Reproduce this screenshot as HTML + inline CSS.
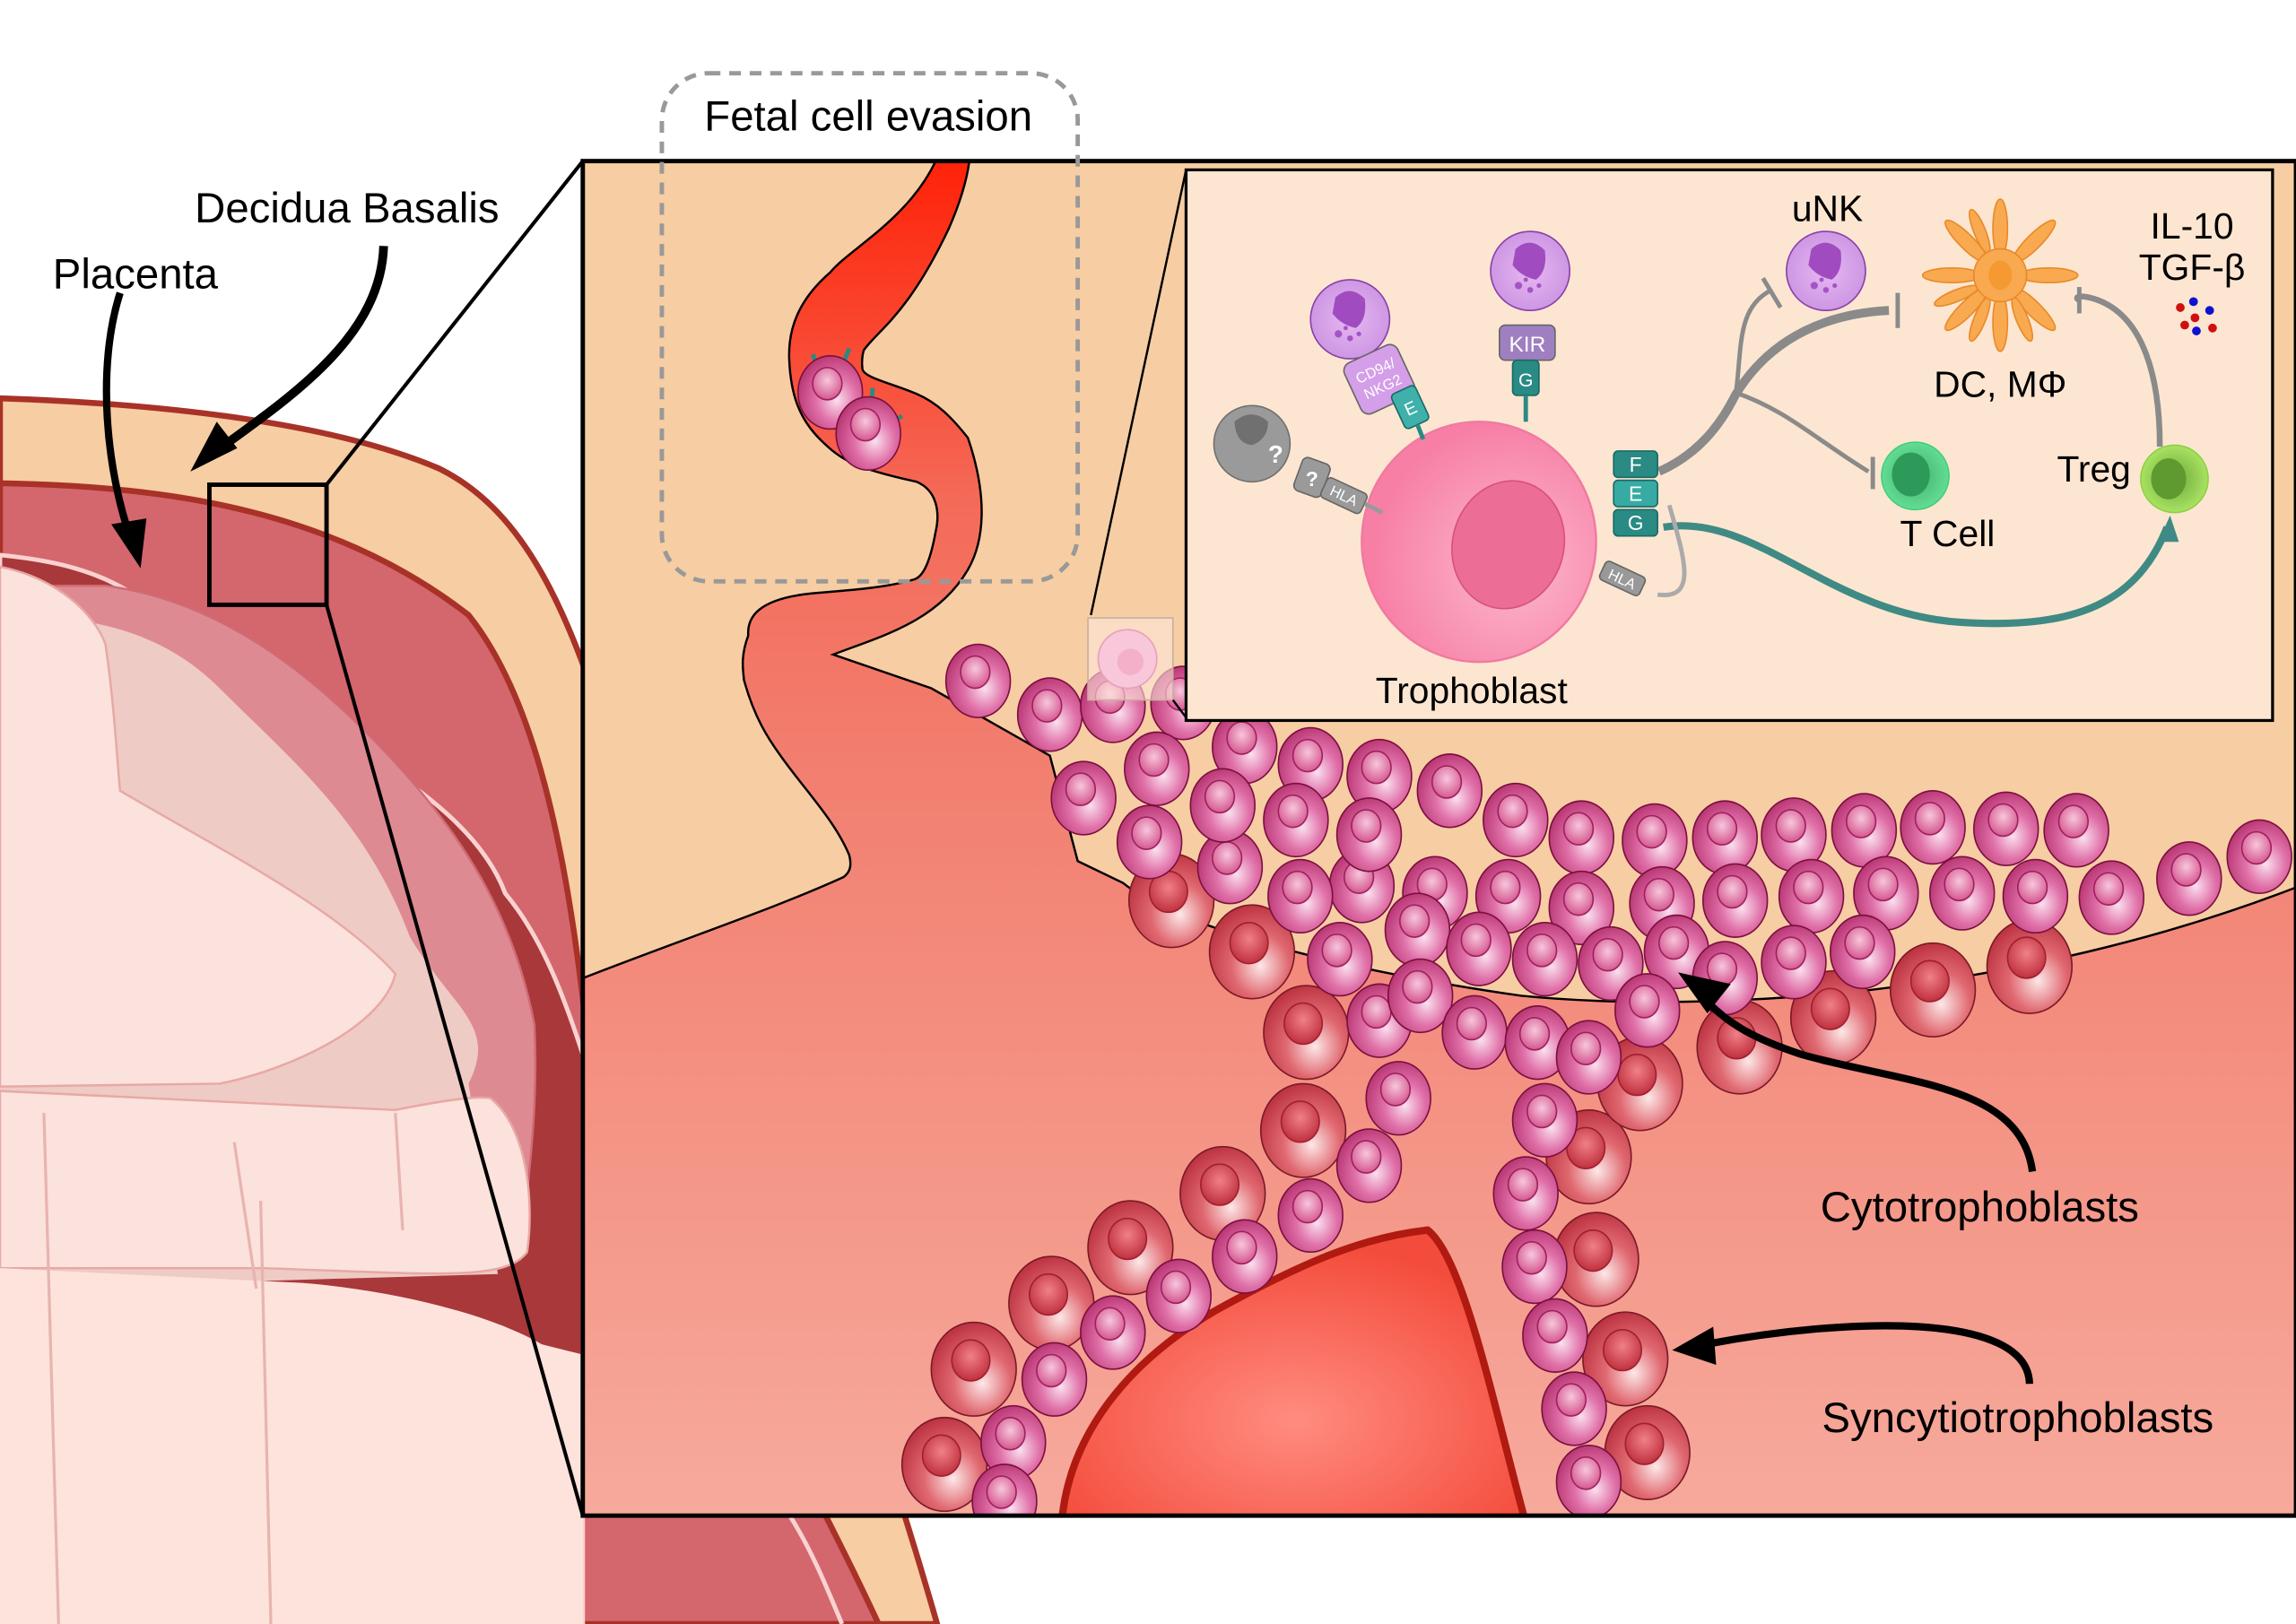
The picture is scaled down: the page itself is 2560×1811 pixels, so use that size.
<!DOCTYPE html>
<html><head><meta charset="utf-8"><style>html,body{margin:0;padding:0;background:#fff}svg{display:block}text{font-family:"Liberation Sans",sans-serif}</style></head>
<body>
<svg width="2560" height="1811" viewBox="0 0 1568 1109" preserveAspectRatio="none" xmlns="http://www.w3.org/2000/svg">
<defs>
<clipPath id="boxclip"><rect x="398" y="110" width="1170" height="925"/></clipPath>
<radialGradient id="gp" cx="0.6" cy="0.6" r="0.7"><stop offset="0" stop-color="#fbe0ee"/><stop offset="0.45" stop-color="#e070a8"/><stop offset="1" stop-color="#b02a68"/></radialGradient>
<radialGradient id="gpn" cx="0.5" cy="0.4" r="0.6"><stop offset="0" stop-color="#f7c6dc"/><stop offset="1" stop-color="#d5578f"/></radialGradient>
<radialGradient id="gr" cx="0.6" cy="0.65" r="0.75"><stop offset="0" stop-color="#fde8e8"/><stop offset="0.45" stop-color="#e06870"/><stop offset="1" stop-color="#b32535"/></radialGradient>
<radialGradient id="grn" cx="0.5" cy="0.4" r="0.6"><stop offset="0" stop-color="#f08088"/><stop offset="1" stop-color="#c0303e"/></radialGradient>
<linearGradient id="lower" gradientUnits="userSpaceOnUse" x1="0" y1="110" x2="0" y2="1035"><stop offset="0" stop-color="#ff2208"/><stop offset="0.25" stop-color="#f46a58"/><stop offset="0.45" stop-color="#f27f70"/><stop offset="1" stop-color="#f6aa9c"/></linearGradient>
<radialGradient id="blob" cx="0.5" cy="0.65" r="0.6"><stop offset="0" stop-color="#ff8c80"/><stop offset="1" stop-color="#f44c3c"/></radialGradient>
<radialGradient id="tro" cx="0.65" cy="0.6" r="0.6"><stop offset="0" stop-color="#fcb8cc"/><stop offset="1" stop-color="#f77fa6"/></radialGradient>
<radialGradient id="pur" cx="0.5" cy="0.5" r="0.6"><stop offset="0" stop-color="#e7b8f2"/><stop offset="1" stop-color="#c890e0"/></radialGradient>
<radialGradient id="grn2" cx="0.5" cy="0.5" r="0.6"><stop offset="0" stop-color="#3fb070"/><stop offset="1" stop-color="#6be59a"/></radialGradient>
<radialGradient id="lime" cx="0.5" cy="0.5" r="0.6"><stop offset="0" stop-color="#6aa83a"/><stop offset="1" stop-color="#b6ee6a"/></radialGradient>
<g id="pc"><ellipse rx="22" ry="25" fill="url(#gp)" stroke="#7a1040" stroke-width="1"/><ellipse cx="-2" cy="-6" rx="10" ry="11" fill="url(#gpn)" stroke="#a02060" stroke-width="1"/></g>
<g id="rc"><ellipse rx="29" ry="32" fill="url(#gr)" stroke="#7a1a26" stroke-width="1"/><ellipse cx="-2" cy="-6" rx="13" ry="14" fill="url(#grn)" stroke="#a02030" stroke-width="1"/></g>
<g id="pcell"><circle r="27" fill="url(#pur)" stroke="#8a40a8" stroke-width="1"/><path d="M-10,-15 Q0,-24 10,-14 Q12,0 4,6 Q-6,4 -12,-4 Z" fill="#a04cc0"/><circle cx="-8" cy="10" r="2.5" fill="#a454c4"/><circle cx="0" cy="13" r="2" fill="#a454c4"/><circle cx="-3" cy="6" r="1.5" fill="#a454c4"/><circle cx="6" cy="10" r="1.6" fill="#a454c4"/></g>
</defs>

<!-- LEFT UTERUS -->
<path d="M0,272 C120,276 230,290 300,320 C360,350 390,420 420,520 C500,700 580,900 640,1109 L0,1109 Z" fill="#f7cda3" stroke="#a83228" stroke-width="4"/>
<path d="M0,330 C120,332 230,350 320,420 C360,470 385,560 400,700 C460,850 540,980 600,1109 L0,1109 Z" fill="#d4666e" stroke="#a83228" stroke-width="4"/>
<path d="M0,379 C60,385 110,400 144,469 C180,480 210,495 238,507 C290,540 330,570 345,610 C370,640 385,680 398,720 L398,1109 L0,1109 Z" fill="#a8383a" stroke="#fad2d0" stroke-width="3"/>
<path d="M72,400 C150,410 210,460 250,500 C310,560 350,620 365,700 C368,760 360,810 355,860 L0,870 L0,400 Z" fill="#de8a92" stroke="#d06a74" stroke-width="1.5"/>
<path d="M0,420 C60,420 110,430 150,470 C200,520 250,560 280,640 C310,690 340,700 320,740 L340,870 L0,880 Z" fill="#eecbc4"/>
<path d="M0,387 C40,395 65,420 72,440 C 78,480 80,520 82,540 C150,580 230,620 270,665 C262,700 200,730 150,740 L0,742 Z" fill="#fbe2dc" stroke="#e8a8a4" stroke-width="1.5"/>
<path d="M0,745 L270,758 C300,752 325,748 335,750 C360,770 365,820 360,855 C345,875 300,870 180,866 L0,866 Z" fill="#fbe2dc" stroke="#e8a8a4" stroke-width="1.5"/>
<path d="M0,866 L205,876 C260,880 330,895 370,918 L398,925 L398,1109 L0,1109 Z" fill="#fde3dc"/>
<path d="M30,760 L40,1109 M160,780 L175,880 M270,760 L275,840 M178,820 L185,1109" stroke="#e8b4b0" stroke-width="2" fill="none"/>
<path d="M540,1036 C555,1060 565,1085 575,1109" stroke="#fad2d0" stroke-width="3" fill="none"/>

<!-- Labels left -->
<text x="133" y="152" font-size="29">Decidua Basalis</text>
<text x="36" y="197" font-size="29">Placenta</text>
<path d="M262,168 C260,230 200,270 145,310" stroke="#000" stroke-width="6" fill="none"/>
<path d="M130,322 L148,288 L162,306 Z" fill="#000"/>
<path d="M82,200 C66,250 72,320 90,370" stroke="#000" stroke-width="5" fill="none"/>
<path d="M96,388 L76,358 L100,354 Z" fill="#000"/>
<rect x="143" y="331" width="80" height="82" fill="none" stroke="#000" stroke-width="3"/>
<line x1="223" y1="331" x2="398" y2="110" stroke="#000" stroke-width="2.5"/>
<line x1="223" y1="413" x2="398" y2="1035" stroke="#000" stroke-width="2.5"/>

<!-- MAIN BOX -->
<rect x="398" y="110" width="1170" height="925" fill="#f7cda3"/>
<g clip-path="url(#boxclip)">
<path d="M639,110 C620,150 580,170 567,186 C545,205 538,225 539,246 C540,268 545,285 560,300 C575,315 585,320 626,329 C640,335 642,350 639,363 C635,385 630,395 623,396 C600,403 560,404 548,406 C520,410 510,420 511,434 C505,450 508,460 508,464 C515,490 525,505 533,516 C550,540 570,560 580,584 C582,592 580,596 576,599 C530,620 470,640 398,668 L398,1035 L1568,1035 L1568,606 C1480,640 1380,665 1260,678 C1150,688 1080,684 1039,680 C900,660 800,630 767,603 L736,588 L717,516 L636,470 L569,447 C600,435 640,425 661,389 C672,370 675,340 661,299 C650,285 640,275 626,269 C610,262 590,258 589,252 C588,244 590,239 590,239 C600,225 620,215 648,156 C655,140 660,125 662,110 Z" fill="url(#lower)" stroke="#000" stroke-width="1.5"/>
<!-- vessel cells -->
<g stroke="#2a8a80" stroke-width="3"><line x1="559" y1="252" x2="555" y2="242"/><line x1="575" y1="250" x2="580" y2="238"/><line x1="595" y1="277" x2="596" y2="265"/><line x1="607" y1="290" x2="616" y2="284"/></g>
<use href="#pc" x="567" y="268" transform="rotate(0)"/>
<use href="#pc" x="593" y="296"/>
<!-- big blob -->
<path d="M725,1040 C730,980 770,930 830,895 C890,862 930,845 975,840 C1000,860 1020,960 1042,1040 Z" fill="url(#blob)" stroke="#b01a10" stroke-width="5"/>
<!-- red cells -->
<use href="#rc" x="800" y="615"/><use href="#rc" x="855" y="650"/><use href="#rc" x="892" y="705"/><use href="#rc" x="890" y="772"/><use href="#rc" x="835" y="815"/><use href="#rc" x="772" y="852"/><use href="#rc" x="718" y="890"/><use href="#rc" x="665" y="935"/><use href="#rc" x="645" y="1000"/>
<use href="#rc" x="1085" y="790"/><use href="#rc" x="1090" y="860"/><use href="#rc" x="1110" y="928"/><use href="#rc" x="1125" y="992"/><use href="#rc" x="1120" y="740"/><use href="#rc" x="1188" y="715"/><use href="#rc" x="1252" y="695"/><use href="#rc" x="1320" y="676"/><use href="#rc" x="1386" y="660"/>
<!-- pink cells -->
<use href="#pc" x="668" y="465"/><use href="#pc" x="717" y="488"/><use href="#pc" x="760" y="482"/><use href="#pc" x="808" y="480"/><use href="#pc" x="850" y="510"/><use href="#pc" x="895" y="522"/><use href="#pc" x="942" y="530"/><use href="#pc" x="990" y="540"/><use href="#pc" x="1035" y="560"/><use href="#pc" x="1080" y="572"/><use href="#pc" x="1130" y="574"/><use href="#pc" x="1178" y="572"/><use href="#pc" x="1225" y="570"/><use href="#pc" x="1273" y="567"/><use href="#pc" x="1320" y="565"/><use href="#pc" x="1370" y="566"/><use href="#pc" x="1418" y="567"/><use href="#pc" x="1495" y="600"/><use href="#pc" x="1543" y="585"/><use href="#pc" x="1442" y="613"/><use href="#pc" x="1390" y="612"/><use href="#pc" x="1340" y="610"/><use href="#pc" x="1288" y="610"/><use href="#pc" x="1237" y="612"/><use href="#pc" x="1185" y="615"/><use href="#pc" x="1135" y="617"/><use href="#pc" x="1080" y="620"/><use href="#pc" x="1030" y="612"/><use href="#pc" x="980" y="610"/><use href="#pc" x="930" y="605"/><use href="#pc" x="888" y="612"/><use href="#pc" x="840" y="592"/><use href="#pc" x="785" y="575"/><use href="#pc" x="740" y="545"/><use href="#pc" x="790" y="525"/><use href="#pc" x="835" y="550"/><use href="#pc" x="885" y="560"/><use href="#pc" x="935" y="570"/>
<use href="#pc" x="915" y="655"/><use href="#pc" x="968" y="635"/><use href="#pc" x="1010" y="648"/><use href="#pc" x="1055" y="655"/><use href="#pc" x="1100" y="658"/><use href="#pc" x="1145" y="650"/><use href="#pc" x="1178" y="668"/><use href="#pc" x="1225" y="657"/><use href="#pc" x="1272" y="650"/><use href="#pc" x="942" y="697"/><use href="#pc" x="970" y="680"/><use href="#pc" x="1007" y="705"/><use href="#pc" x="1050" y="712"/><use href="#pc" x="1085" y="722"/><use href="#pc" x="1125" y="690"/>
<use href="#pc" x="955" y="750"/><use href="#pc" x="935" y="796"/><use href="#pc" x="895" y="830"/><use href="#pc" x="850" y="858"/><use href="#pc" x="805" y="885"/><use href="#pc" x="760" y="910"/><use href="#pc" x="720" y="942"/><use href="#pc" x="692" y="985"/><use href="#pc" x="686" y="1025"/>
<use href="#pc" x="1055" y="765"/><use href="#pc" x="1042" y="815"/><use href="#pc" x="1048" y="865"/><use href="#pc" x="1062" y="912"/><use href="#pc" x="1075" y="962"/><use href="#pc" x="1085" y="1012"/>
</g>
<!-- thumbnail -->
<rect x="743" y="422" width="58" height="56" fill="#fde6da" fill-opacity="0.6" stroke="#c8b0a0" stroke-width="1"/>
<circle cx="770" cy="450" r="20" fill="#f8c8da" stroke="#e8a0bc"/><circle cx="772" cy="452" r="9" fill="#f4b0c8"/>
<line x1="745" y1="420" x2="810" y2="116" stroke="#000" stroke-width="1.5"/>
<line x1="801" y1="478" x2="810" y2="490" stroke="#000" stroke-width="1.5"/>
<rect x="398" y="110" width="1170" height="925" fill="none" stroke="#000" stroke-width="3"/>

<!-- dashed box -->
<rect x="452" y="50" width="284" height="347" rx="32" fill="none" stroke="#999" stroke-width="3" stroke-dasharray="8,6"/>
<text x="593" y="89" font-size="29" text-anchor="middle">Fetal cell evasion</text>

<!-- arrows right -->
<path d="M1388,800 C1380,740 1300,740 1230,720 C1200,710 1180,700 1162,680" stroke="#000" stroke-width="5" fill="none"/>
<path d="M1146,664 L1182,672 L1166,692 Z" fill="#000"/>
<path d="M1386,945 C1385,895 1260,900 1165,918" stroke="#000" stroke-width="5" fill="none"/>
<path d="M1142,922 L1170,906 L1172,932 Z" fill="#000"/>
<text x="1352" y="834" font-size="29" text-anchor="middle">Cytotrophoblasts</text>
<text x="1378" y="978" font-size="29" text-anchor="middle">Syncytiotrophoblasts</text>

<!-- INSET -->
<rect x="810" y="116" width="742" height="376" fill="#fde6d1" stroke="#000" stroke-width="2"/>
<g fill="none" stroke="#8a8a8a" stroke-linecap="butt">
<path d="M1133,322 C1160,310 1175,290 1185,270 C1200,245 1230,215 1290,212" stroke-width="6"/>
<path d="M1185,272 C1190,240 1185,210 1210,198" stroke-width="3"/>
<path d="M1185,268 C1220,280 1240,300 1276,322" stroke-width="3"/>
<path d="M1475,305 C1475,260 1465,215 1430,204 C1420,201 1416,203 1420,205" stroke-width="4"/>
</g>
<g stroke="#8a8a8a" stroke-width="3"><line x1="1204" y1="190" x2="1216" y2="210"/><line x1="1296" y1="200" x2="1296" y2="224"/><line x1="1279" y1="312" x2="1279" y2="334"/><line x1="1420" y1="196" x2="1420" y2="214"/></g>
<path d="M1136,360 C1200,350 1250,420 1340,425 C1420,430 1460,410 1480,360" stroke="#3f8a84" stroke-width="5" fill="none"/>
<path d="M1482,352 L1474,370 L1488,370 Z" fill="#3f8a84"/>
<path d="M1132,406 C1160,410 1150,380 1140,345" stroke="#aaa" stroke-width="3" fill="none"/>
<ellipse cx="1010" cy="370" rx="80" ry="82" fill="url(#tro)" stroke="#f07aa0" stroke-width="1.5"/>
<ellipse cx="1030" cy="372" rx="38" ry="44" fill="#ec6e96" stroke="#d8507f" transform="rotate(15 1030 372)"/>
<text x="1005" y="480" font-size="25" text-anchor="middle">Trophoblast</text>
<g fill="#2a8a84" stroke="#1a6a66" stroke-width="1">
<rect x="1102" y="308" width="30" height="18" rx="3"/><rect x="1102" y="328" width="30" height="18" rx="3" fill="#38aaa4"/><rect x="1102" y="348" width="30" height="18" rx="3"/>
</g>
<g fill="#fff" font-size="14" text-anchor="middle"><text x="1117" y="322">F</text><text x="1117" y="342">E</text><text x="1117" y="362">G</text></g>
<rect x="1093" y="388" width="30" height="14" rx="3" fill="#999" stroke="#666" transform="rotate(25 1108 395)"/>
<text x="1108" y="399" font-size="10" fill="#fff" text-anchor="middle" transform="rotate(25 1108 395)">HLA</text>
<use href="#pcell" x="922" y="218"/>
<use href="#pcell" x="1045" y="185"/>
<use href="#pcell" x="1247" y="185"/>
<rect x="922" y="240" width="40" height="38" rx="6" fill="#d49ee8" stroke="#666" transform="rotate(-25 942 259)"/>
<text x="942" y="256" font-size="10" fill="#fff" text-anchor="middle" transform="rotate(-25 942 259)">CD94/</text>
<text x="942" y="268" font-size="10" fill="#fff" text-anchor="middle" transform="rotate(-25 942 259)">NKG2</text>
<rect x="954" y="265" width="18" height="26" rx="3" fill="#3fb0aa" stroke="#1a6a66" transform="rotate(-25 963 278)"/>
<text x="963" y="283" font-size="12" fill="#fff" text-anchor="middle" transform="rotate(-25 963 278)">E</text>
<line x1="968" y1="290" x2="972" y2="300" stroke="#2a8a84" stroke-width="3"/>
<rect x="1024" y="222" width="38" height="24" rx="4" fill="#9f7fc0" stroke="#666"/>
<text x="1043" y="240" font-size="15" fill="#fff" text-anchor="middle">KIR</text>
<rect x="1033" y="246" width="18" height="24" rx="3" fill="#2a8a84" stroke="#1a6a66"/>
<text x="1042" y="264" font-size="13" fill="#fff" text-anchor="middle">G</text>
<line x1="1042" y1="270" x2="1042" y2="288" stroke="#2a8a84" stroke-width="3"/>
<circle cx="855" cy="303" r="26" fill="#9a9a9a" stroke="#707070"/>
<path d="M843,288 Q855,278 866,288 Q866,300 855,304 Q844,303 843,288Z" fill="#707070"/>
<text x="866" y="316" font-size="17" fill="#fff" font-weight="bold">?</text>
<rect x="886" y="314" width="20" height="24" rx="4" fill="#9a9a9a" stroke="#666" transform="rotate(20 896 326)"/>
<text x="896" y="332" font-size="14" fill="#fff" font-weight="bold" text-anchor="middle">?</text>
<rect x="903" y="331" width="30" height="15" rx="3" fill="#9a9a9a" stroke="#666" transform="rotate(25 918 338)"/>
<text x="918" y="342" font-size="10" fill="#fff" text-anchor="middle" transform="rotate(25 918 338)">HLA</text>
<line x1="932" y1="344" x2="944" y2="350" stroke="#999" stroke-width="3"/>
<!-- DC star -->
<g fill="#f9a950" stroke="#e88a2a" stroke-width="1">
<ellipse cx="1366" cy="156" rx="5" ry="20"/>
<ellipse cx="1366" cy="220" rx="5" ry="20"/>
<ellipse cx="1333" cy="188" rx="20" ry="5"/>
<ellipse cx="1399" cy="188" rx="20" ry="5"/>
<ellipse cx="1343" cy="165" rx="5" ry="20" transform="rotate(-45 1343 165)"/>
<ellipse cx="1389" cy="165" rx="5" ry="20" transform="rotate(45 1389 165)"/>
<ellipse cx="1343" cy="211" rx="5" ry="20" transform="rotate(45 1343 211)"/>
<ellipse cx="1389" cy="211" rx="5" ry="20" transform="rotate(-45 1389 211)"/>
<ellipse cx="1352" cy="158" rx="4" ry="16" transform="rotate(-22 1352 158)"/>
<ellipse cx="1381" cy="218" rx="4" ry="16" transform="rotate(-22 1381 218)"/>
<ellipse cx="1352" cy="218" rx="4" ry="16" transform="rotate(22 1352 218)"/>
<ellipse cx="1336" cy="202" rx="16" ry="4" transform="rotate(-22 1336 202)"/>
<circle cx="1366" cy="188" r="18"/>
</g>
<ellipse cx="1366" cy="188" rx="8" ry="10" fill="#f59a30"/>
<text x="1366" y="271" font-size="25" text-anchor="middle">DC, MΦ</text>
<text x="1248" y="151" font-size="25" text-anchor="middle">uNK</text>
<text x="1497" y="163" font-size="25" text-anchor="middle">IL-10</text>
<text x="1497" y="191" font-size="25" text-anchor="middle">TGF-β</text>
<g><circle cx="1489" cy="210" r="3" fill="#d01010"/><circle cx="1498" cy="206" r="3" fill="#1010d0"/><circle cx="1509" cy="212" r="3" fill="#1010d0"/><circle cx="1499" cy="217" r="3" fill="#d01010"/><circle cx="1492" cy="222" r="3" fill="#d01010"/><circle cx="1500" cy="226" r="3" fill="#1010d0"/><circle cx="1511" cy="224" r="3" fill="#d01010"/></g>
<circle cx="1308" cy="325" r="23" fill="url(#grn2)" stroke="#3fcf7a"/><ellipse cx="1305" cy="324" rx="13" ry="15" fill="#2e9a5a"/>
<text x="1330" y="373" font-size="25" text-anchor="middle">T Cell</text>
<circle cx="1485" cy="327" r="23" fill="url(#lime)" stroke="#8ed040"/><ellipse cx="1481" cy="327" rx="12" ry="14" fill="#5e9a30"/>
<text x="1430" y="329" font-size="25" text-anchor="middle">Treg</text>
</svg>
</body></html>
